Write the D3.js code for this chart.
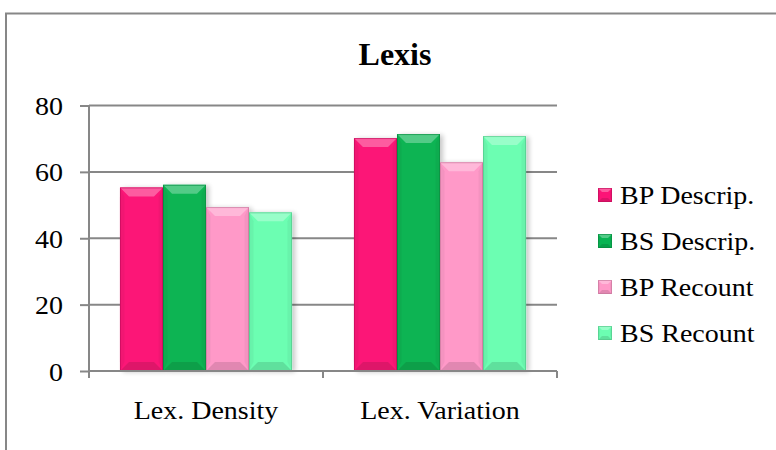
<!DOCTYPE html>
<html><head><meta charset="utf-8">
<script src="https://cdn.jsdelivr.net/npm/d3@7"></script>
<style>html,body{margin:0;padding:0;background:#fff;}svg{display:block;}
svg text{font-family:"Liberation Serif","Times New Roman",Times,serif;}</style>
</head><body>
<svg id="chart" width="776" height="450"></svg>
<script>
const categories = ["Lex. Density", "Lex. Variation"];
const seriesNames = ["BP Descrip.", "BS Descrip.", "BP Recount", "BS Recount"];
const bpDescrip = [55.3, 70.2];
const bsDescrip = [56.1, 71.4];
const bpRecount = [49.4, 62.9];
const bsRecount = [47.8, 70.8];
const yTicks = [0, 20, 40, 60, 80];
const seriesColors = ["#FC1477", "#08B453", "#FF99C8", "#6CFEB2"];

const seriesValues = [bpDescrip, bsDescrip, bpRecount, bsRecount];
const svg = d3.select("#chart");
const FS = 25, SX = 1.12;

function stretchedText(g, x, y, str, anchor) {
  return g.append("text")
    .attr("transform", `translate(${x},${y}) scale(${SX},1)`)
    .attr("text-anchor", anchor || "start")
    .attr("font-size", FS).attr("fill", "#000")
    .text(str);
}

// outer border
svg.append("path").attr("d", "M6,452 L6,13.5 L780,13.5")
  .attr("fill", "none").attr("stroke", "#878787").attr("stroke-width", 2);

svg.append("text").attr("x", 395).attr("y", 65).attr("text-anchor", "middle")
  .attr("font-weight", "bold").attr("font-size", 32)
  .attr("fill", "#000").text("Lexis");

const x0 = d3.scaleBand().domain(categories).range([89, 557]).paddingInner(0).paddingOuter(0);
const x1 = d3.scaleBand().domain(seriesNames).range([0, x0.bandwidth()]).paddingInner(0).paddingOuter(0.72);
const y = d3.scaleLinear().domain([0, 80]).range([371, 105.5]);

// gridlines
svg.append("g").selectAll("line").data(yTicks.filter(t => t > 0)).join("line")
  .attr("x1", 89).attr("x2", 557).attr("y1", d => y(d)).attr("y2", d => y(d))
  .attr("stroke", "#878787").attr("stroke-width", 2);

const defs = svg.append("defs");
const sh = defs.append("filter").attr("id", "shadow").attr("x", "-20%").attr("y", "-20%").attr("width", "150%").attr("height", "140%");
sh.append("feGaussianBlur").attr("in", "SourceAlpha").attr("stdDeviation", 2.5);
sh.append("feOffset").attr("dx", 3).attr("dy", 1).attr("result", "b");
sh.append("feComponentTransfer").append("feFuncA").attr("type", "linear").attr("slope", 0.22);
const mg = sh.append("feMerge"); mg.append("feMergeNode"); mg.append("feMergeNode").attr("in", "SourceGraphic");

const bars = [];
categories.forEach((c, ci) => seriesNames.forEach((s, si) => bars.push({c, s, si, v: seriesValues[si][ci]})));

function drawBevel(g, x, yTop, w, h, col, b) {
  const base = d3.color(col);
  g.append("rect").attr("x", x).attr("y", yTop).attr("width", w).attr("height", h).attr("fill", base);
  const light = d3.interpolateRgb(col, "#ffffff")(0.3);
  const dark = base.darker(0.35);
  const side = base.darker(0.12);
  g.append("polygon").attr("points", [[x, yTop], [x + w, yTop], [x + w - b, yTop + b], [x + b, yTop + b]].join(" ")).attr("fill", light);
  g.append("polygon").attr("points", [[x, yTop + h], [x + w, yTop + h], [x + w - b, yTop + h - b], [x + b, yTop + h - b]].join(" ")).attr("fill", dark);
  g.append("polygon").attr("points", [[x, yTop], [x + b * 0.5, yTop + b], [x + b * 0.5, yTop + h - b], [x, yTop + h]].join(" ")).attr("fill", side);
  g.append("polygon").attr("points", [[x + w, yTop], [x + w - b * 0.5, yTop + b], [x + w - b * 0.5, yTop + h - b], [x + w, yTop + h]].join(" ")).attr("fill", side);
  g.append("rect").attr("x", x + 0.5).attr("y", yTop + 0.5).attr("width", w - 1).attr("height", h - 1)
    .attr("fill", "none").attr("stroke", base.darker(0.8)).attr("stroke-width", 1).attr("stroke-opacity", 0.6);
}

const barG = svg.append("g");
bars.forEach(d => {
  const g = barG.append("g").attr("filter", "url(#shadow)");
  const bx = x0(d.c) + x1(d.s);
  drawBevel(g, bx, y(d.v), x1.bandwidth(), y(0) - y(d.v), seriesColors[d.si], 9);
});

// axes
const yAxis = d3.axisLeft(y).tickValues(yTicks).tickSize(9).tickFormat("");
const ya = svg.append("g").attr("transform", "translate(89,0)").call(yAxis);
ya.select(".domain").remove();
ya.append("line").attr("x1", 0).attr("x2", 0).attr("y1", y(80)).attr("y2", y(0)).attr("stroke", "#878787").attr("stroke-width", 2);
ya.selectAll(".tick line").attr("stroke", "#878787").attr("stroke-width", 2);
ya.selectAll(".tick").each(function(d) {
  stretchedText(d3.select(this), -26, 9, d3.format("d")(d), "end");
});

const xAxisG = svg.append("g");
xAxisG.append("line").attr("x1", 89).attr("x2", 557).attr("y1", y(0)).attr("y2", y(0)).attr("stroke", "#878787").attr("stroke-width", 2);
const tickPos = [89, ...categories.map(c => x0(c) + x0.bandwidth())];
xAxisG.selectAll(".xt").data(tickPos).join("line").attr("class", "xt")
  .attr("x1", d => d).attr("x2", d => d).attr("y1", y(0)).attr("y2", y(0) + 7)
  .attr("stroke", "#878787").attr("stroke-width", 2);
categories.forEach(c => stretchedText(xAxisG, x0(c) + x0.bandwidth() / 2, 419, c, "middle"));

// legend
const lg = svg.append("g");
seriesNames.forEach((s, i) => {
  const cy = 195 + i * 46;
  const g = lg.append("g");
  drawBevel(g, 598, cy - 7, 14, 14, seriesColors[i], 4);
  stretchedText(g, 620, cy + 9, s, "start");
});
</script>
</body></html>
